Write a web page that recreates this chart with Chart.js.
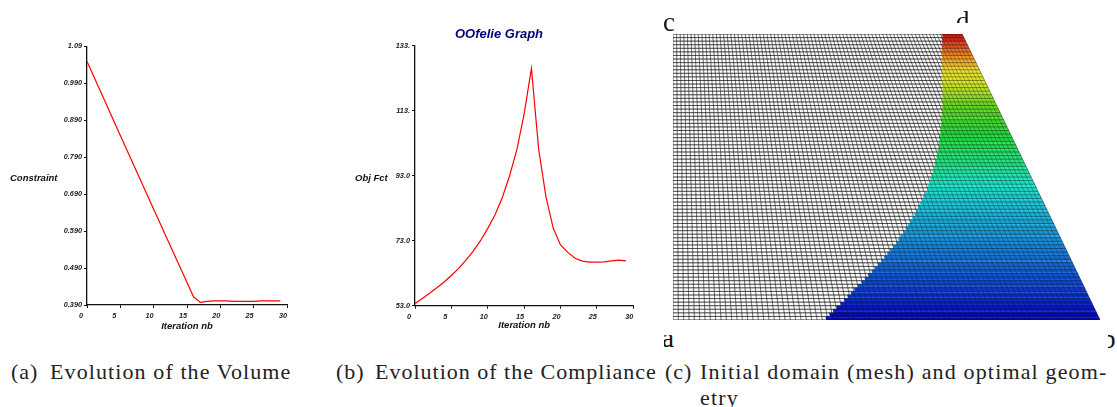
<!DOCTYPE html>
<html>
<head>
<meta charset="utf-8">
<script src="https://cdn.jsdelivr.net/npm/chart.js@4/dist/chart.umd.js"></script>
<style>
  html, body { margin: 0; padding: 0; background: #fff; width: 1117px; height: 407px; overflow: hidden; }
  canvas, .txt, .cut { position: absolute; }
  canvas { filter: blur(0.35px); }
  .txt { white-space: pre; line-height: 1; }
  .side { font: italic bold 9.5px "Liberation Sans", sans-serif; color: #111; }
  .cap { font: 22px "Liberation Serif", serif; color: #222; letter-spacing: 0.9px; }
  .cut { overflow: hidden; }
  .cut span { position: absolute; font: 27px "Liberation Serif", serif; line-height: 1; color: #111; }
</style>
</head>
<body>
<canvas id="volumeChart" width="300" height="305" style="left:0;top:40px"></canvas>
<canvas id="complianceChart" width="308" height="320" style="left:345px;top:20px"></canvas>
<canvas id="meshChart" width="431" height="290" style="left:671px;top:32px"></canvas>

<div class="txt side" style="left:10px;top:172px">Constraint</div>
<div class="txt side" style="left:355px;top:172px">Obj Fct</div>

<div class="cut" style="left:660px;top:10px;width:14px;height:22px"><span style="left:3px;top:-1px">c</span></div>
<div class="cut" style="left:955px;top:8px;width:16px;height:15px"><span style="left:1px;top:0">d</span></div>
<div class="cut" style="left:664px;top:335px;width:10px;height:14px"><span style="left:-2px;top:-10px">a</span></div>
<div class="cut" style="left:1108px;top:335px;width:9px;height:14px"><span style="left:-6px;top:-9px">b</span></div>

<div class="txt cap" style="left:11px;top:359px">(a)</div>
<div class="txt cap" style="left:50px;top:359px;letter-spacing:1.1px">Evolution of the Volume</div>
<div class="txt cap" style="left:336px;top:359px">(b)</div>
<div class="txt cap" style="left:375px;top:359px;letter-spacing:1px">Evolution of the Compliance</div>
<div class="txt cap" style="left:665px;top:359px">(c)</div>
<div class="txt cap" style="left:700px;top:359px;letter-spacing:1.16px">Initial domain (mesh) and optimal geom-</div>
<div class="txt cap" style="left:700px;top:385px;letter-spacing:1.16px">etry</div>

<script>
// Courbes
const iterations = [0, 1, 2, 3, 4, 5, 6, 7, 8, 9, 10, 11, 12, 13, 14, 15, 16, 17, 18, 19, 20, 21, 22, 23, 24, 25, 26, 27, 28, 29]
const volume = [1.049, 1.009, 0.969, 0.929, 0.889, 0.849, 0.809, 0.769, 0.729, 0.689, 0.649, 0.61, 0.57, 0.53, 0.491, 0.451, 0.4115, 0.397, 0.4, 0.401, 0.401, 0.401, 0.4, 0.4, 0.4, 0.4, 0.401, 0.401, 0.401, 0.401]
const compliance = [53.7, 55.2, 56.8, 58.5, 60.3, 62.3, 64.5, 67, 69.8, 73, 76.8, 81, 86.3, 93, 101, 112, 126, 101, 86.5, 76.8, 71.7, 69.4, 67.6, 66.7, 66.4, 66.4, 66.5, 66.8, 67, 66.8]

// Axes
const xTicks = [0, 5, 10, 15, 20, 25, 30]
const volumeTicks = [0.39, 0.49, 0.59, 0.69, 0.79, 0.89, 0.99, 1.09]
const volumeTickLabels = ["0.390", "0.490", "0.590", "0.690", "0.790", "0.890", "0.990", "1.09"]
const complianceTicks = [53, 73, 93, 113, 133]
const complianceTickLabels = ["53.0", "73.0", "93.0", "113.", "133."]

// Maillage : colonne ou commence la zone coloree, ligne par ligne depuis le bas
const meshRows = 80
const meshCols = 80
const meshTopWidth = 0.677
const firstSolidCol = [
  28.7, 29.5, 30.3, 31.1, 32, 32.8, 33.6, 34.4, 35.2, 36,
  36.9, 37.7, 38.5, 39.4, 40.2, 41, 41.8, 42.6, 43.4, 44.2,
  45, 45.8, 46.5, 47.2, 47.9, 48.6, 49.3, 50, 50.7, 51.4,
  52, 52.6, 53.3, 53.9, 54.5, 55.2, 55.8, 56.3, 56.9, 57.4,
  58, 58.5, 59, 59.5, 60, 60.5, 61, 61.4, 61.9, 62.3,
  62.7, 63.1, 63.6, 64, 64.4, 64.8, 65.2, 65.6, 66, 66.4,
  66.8, 67.1, 67.5, 67.9, 68.3, 68.6, 69, 69.4, 69.7, 70.1,
  70.4, 70.8, 71.2, 71.7, 72.1, 72.5, 73, 73.4, 73.8, 74.3,
]
const colorHeights = [0, 0.1, 0.25, 0.4, 0.47, 0.55, 0.65, 0.75, 0.83, 0.87, 0.92, 0.96, 1]
const colorValues = ["#0000b8", "#0a38d0", "#1480d8", "#18c0d8", "#18e4c8", "#20e080", "#20d838", "#68d820", "#d8e820", "#f0e030", "#f09020", "#e04820", "#c01010"]

const FONT = "'Liberation Sans', sans-serif"

function rampColor(h) {
  let k = 0
  while (k < colorHeights.length - 2 && h > colorHeights[k + 1]) k++
  const t = (h - colorHeights[k]) / (colorHeights[k + 1] - colorHeights[k])
  const a = colorValues[k], b = colorValues[k + 1]
  const mix = (p) => Math.round(parseInt(a.slice(p, p + 2), 16) * (1 - t) + parseInt(b.slice(p, p + 2), 16) * t)
  return "rgb(" + mix(1) + "," + mix(3) + "," + mix(5) + ")"
}

function curveChart(id, values, yTicks, yLabels, opts) {
  return new Chart(document.getElementById(id), {
    type: "scatter",
    data: {
      datasets: [{
        data: iterations.map((x, i) => ({ x: x, y: values[i] })),
        showLine: true,
        borderColor: "#ff0000",
        borderWidth: 1.2,
        pointRadius: 0,
        tension: 0,
      }],
    },
    options: {
      responsive: false,
      animation: false,
      layout: { padding: opts.padding },
      plugins: {
        legend: { display: false },
        tooltip: { enabled: false },
        title: opts.title || { display: false },
      },
      scales: {
        x: {
          type: "linear",
          min: 0,
          max: 30,
          afterBuildTicks: (s) => { s.ticks = xTicks.map((v) => ({ value: v })) },
          afterFit: (s) => { s.height = opts.xHeight },
          border: { color: "#111", width: 1.3 },
          grid: { drawOnChartArea: false, color: "#111", tickLength: 3 },
          ticks: {
            color: "#222",
            align: "end",
            padding: 4,
            maxRotation: 0,
            autoSkip: false,
            font: { family: FONT, size: 7.3, style: "italic", weight: "bold" },
            callback: (v) => (v < 10 ? v + "  " : "" + v),
          },
          title: {
            display: true,
            text: "Iteration nb",
            color: "#111",
            padding: { top: 0, bottom: opts.titleBottom },
            font: { family: FONT, size: 9.5, style: "italic", weight: "bold" },
          },
        },
        y: {
          type: "linear",
          min: yTicks[0],
          max: yTicks[yTicks.length - 1],
          afterBuildTicks: (s) => { s.ticks = yTicks.map((v) => ({ value: v })) },
          afterFit: (s) => { s.width = opts.yWidth },
          border: { color: "#111", width: 1.3 },
          grid: { drawOnChartArea: false, color: "#111", tickLength: 3 },
          ticks: {
            color: "#222",
            padding: 2,
            autoSkip: false,
            font: { family: FONT, size: 7.3, style: "italic", weight: "bold" },
            callback: (v, i) => yLabels[i],
          },
        },
      },
    },
  })
}

curveChart("volumeChart", volume, volumeTicks, volumeTickLabels, {
  padding: { left: 0, right: 13, top: 5.7, bottom: 0 },
  xHeight: 40,
  yWidth: 87,
  titleBottom: 13,
})

curveChart("complianceChart", compliance, complianceTicks, complianceTickLabels, {
  padding: { left: 19.7, right: 19.7, top: 0, bottom: 0 },
  xHeight: 34.3,
  yWidth: 50.3,
  titleBottom: 8.5,
  title: {
    display: true,
    text: "OOfelie Graph",
    color: "#000080",
    padding: { top: 7, bottom: 3.1 },
    font: { family: FONT, size: 13, style: "italic", weight: "bold" },
  },
})

// Panneau (c) : chart.js dessine le premier dataset au-dessus
function rightEdge(h) {
  return 1 + (meshTopWidth - 1) * h
}

const meshDatasets = []

function pushMesh(rowColor, colColor) {
  for (let j = 0; j <= meshRows; j++) {
    const h = j / meshRows
    meshDatasets.push({
      data: [{ x: 0, y: h }, { x: rightEdge(h), y: h }],
      showLine: true,
      borderColor: rowColor,
      borderWidth: 1,
      pointRadius: 0,
    })
  }
  for (let i = 0; i <= meshCols; i++) {
    const f = i / meshCols
    meshDatasets.push({
      data: [{ x: f, y: 0 }, { x: f * meshTopWidth, y: 1 }],
      showLine: true,
      borderColor: colColor,
      borderWidth: 0.9,
      pointRadius: 0,
    })
  }
}

// couche legere par-dessus les couleurs
pushMesh("rgba(20,20,20,0.42)", "rgba(20,20,20,0.3)")

const SUB = 3
firstSolidCol.forEach((col, j) => {
  for (let s = 0; s < SUB; s++) {
    const h = (j + (s + 0.5) / SUB) / meshRows
    meshDatasets.push({
      data: [{ x: (col / meshCols) * rightEdge(h), y: h }, { x: rightEdge(h), y: h }],
      showLine: true,
      borderColor: rampColor(h),
      borderWidth: 1.6,
      pointRadius: 0,
    })
  }
})

// couche sous les couleurs : ne se voit que dans la zone grise
pushMesh("rgba(20,20,20,0.55)", "rgba(20,20,20,0.45)")

new Chart(document.getElementById("meshChart"), {
  type: "scatter",
  data: { datasets: meshDatasets },
  options: {
    responsive: false,
    animation: false,
    layout: { padding: { left: 2, right: 2, top: 2, bottom: 2 } },
    plugins: { legend: { display: false }, tooltip: { enabled: false } },
    scales: {
      x: { type: "linear", min: 0, max: 1, display: false },
      y: { type: "linear", min: 0, max: 1, display: false },
    },
  },
})
</script>
</body>
</html>
